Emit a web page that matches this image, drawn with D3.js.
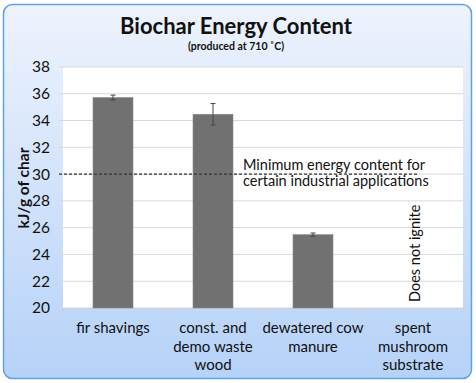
<!DOCTYPE html>
<html><head><meta charset="utf-8">
<script src="https://cdn.jsdelivr.net/npm/d3@7"></script>
<style>body{margin:0;background:#fff}svg{display:block}text{font-family:Lato,"Open Sans",sans-serif}</style>
</head><body>
<script>
const categories = [["fir shavings"],["const. and","demo waste","wood"],["dewatered cow","manure"],["spent","mushroom","substrate"]];
const values = [35.72, 34.47, 25.48, null];
const errors = [0.18, 0.8, 0.12, null];
const yTicks = [20,22,24,26,28,30,32,34,36,38];
const threshold = 30;
const thresholdLabel = ["Minimum energy content for","certain industrial applications"];
const noIgniteLabel = "Does not ignite";

const W=476,H=383;
const svg=d3.select("body").append("svg").attr("width",W).attr("height",H);
const defs=svg.append("defs");
const g=defs.append("linearGradient").attr("id","bg").attr("x1",0).attr("y1",0).attr("x2",0).attr("y2",1);
g.append("stop").attr("offset","0%").attr("stop-color","#eef3fd");
g.append("stop").attr("offset","100%").attr("stop-color","#b5d2f8");
svg.append("rect").attr("x",3.5).attr("y",4.5).attr("width",468).attr("height",374).attr("rx",9)
  .attr("fill","url(#bg)").attr("stroke","#5fa2e3").attr("stroke-width",1.5);

const m={l:63,r:463,t:67,b:308};
const x=d3.scaleBand().domain(d3.range(categories.length)).range([m.l,m.r]).paddingInner(0.6).paddingOuter(0.3);
const xb=d3.scaleBand().domain(d3.range(categories.length)).range([m.l,m.r]);
const y=d3.scaleLinear().domain([20,38]).range([m.b,m.t]);

svg.append("rect").attr("x",m.l).attr("y",m.t).attr("width",m.r-m.l).attr("height",m.b-m.t).attr("fill","#fff");
// gridlines
svg.append("g").selectAll("line").data(yTicks).join("line")
  .attr("x1",m.l-4).attr("x2",m.r).attr("y1",d=>y(d)).attr("y2",d=>y(d))
  .attr("stroke","#d9d9d9").attr("stroke-width",1);
// y tick labels
svg.append("g").selectAll("text").data(yTicks).join("text")
  .attr("x",50).attr("y",d=>y(d)).attr("dy","0.35em").attr("text-anchor","end")
  .attr("font-size",15.5).attr("fill","#111").text(d=>d);
// x axis line and ticks
svg.append("line").attr("x1",m.l).attr("x2",m.r).attr("y1",m.b+0.5).attr("y2",m.b+0.5).attr("stroke","#d0d0d0");
svg.append("g").selectAll("line").data(d3.range(categories.length+1)).join("line")
  .attr("x1",i=>i<categories.length?xb(i):m.r).attr("x2",i=>i<categories.length?xb(i):m.r)
  .attr("y1",m.b).attr("y2",m.b+5).attr("stroke","#d0d0d0");
// bars
const data=values.map((v,i)=>({i,v,e:errors[i]})).filter(d=>d.v!=null);
svg.append("g").selectAll("rect").data(data).join("rect")
  .attr("x",d=>x(d.i)).attr("width",x.bandwidth()).attr("y",d=>y(d.v)).attr("height",d=>y(20)-y(d.v))
  .attr("fill","#717171").attr("stroke","#8a8a8a").attr("stroke-width",0.6);
// error bars
const eb=svg.append("g").attr("stroke","#444").attr("stroke-width",1);
data.forEach(d=>{
  const cx=x(d.i)+x.bandwidth()/2;
  eb.append("line").attr("x1",cx).attr("x2",cx).attr("y1",y(d.v+d.e)).attr("y2",y(d.v-d.e));
  eb.append("line").attr("x1",cx-2.5).attr("x2",cx+2.5).attr("y1",y(d.v+d.e)).attr("y2",y(d.v+d.e));
  eb.append("line").attr("x1",cx-2.5).attr("x2",cx+2.5).attr("y1",y(d.v-d.e)).attr("y2",y(d.v-d.e));
});
// threshold
svg.append("line").attr("x1",m.l-4).attr("x2",417).attr("y1",y(threshold)).attr("y2",y(threshold))
  .attr("stroke","#333").attr("stroke-width",1.3).attr("stroke-dasharray","3,2");
svg.append("text").attr("font-size",14.5).attr("fill","#111").selectAll("tspan").data(thresholdLabel).join("tspan")
  .attr("x",243).attr("y",(d,i)=>170+i*16).text(d=>d);
// does not ignite
const nx=x(3)+x.bandwidth()/2+7;
svg.append("text").attr("transform",`translate(${nx},${m.b-6}) rotate(-90)`).attr("font-size",14.5).attr("fill","#111").text(noIgniteLabel);
// category labels
svg.append("g").selectAll("text").data(categories).join("text")
  .attr("text-anchor","middle").attr("font-size",15).attr("fill","#111")
  .each(function(lines,i){
    d3.select(this).selectAll("tspan").data(lines).join("tspan")
      .attr("x",xb(i)+xb.bandwidth()/2).attr("y",(d,j)=>333+j*18.5).text(d=>d);
  });
// axis title
svg.append("text").attr("transform","translate(29,188) rotate(-90)").attr("text-anchor","middle")
  .attr("font-size",15.5).attr("font-weight","bold").attr("fill","#111").text("kJ/g of char");
// titles
svg.append("text").attr("x",236).attr("y",34).attr("text-anchor","middle").attr("font-size",22).attr("font-weight","bold").attr("fill","#111").text("Biochar Energy Content");
svg.append("text").attr("x",236).attr("y",50).attr("text-anchor","middle").attr("font-size",10.5).attr("font-weight","bold").attr("fill","#111").text("(produced at 710 ˚C)");
</script>
</body></html>
